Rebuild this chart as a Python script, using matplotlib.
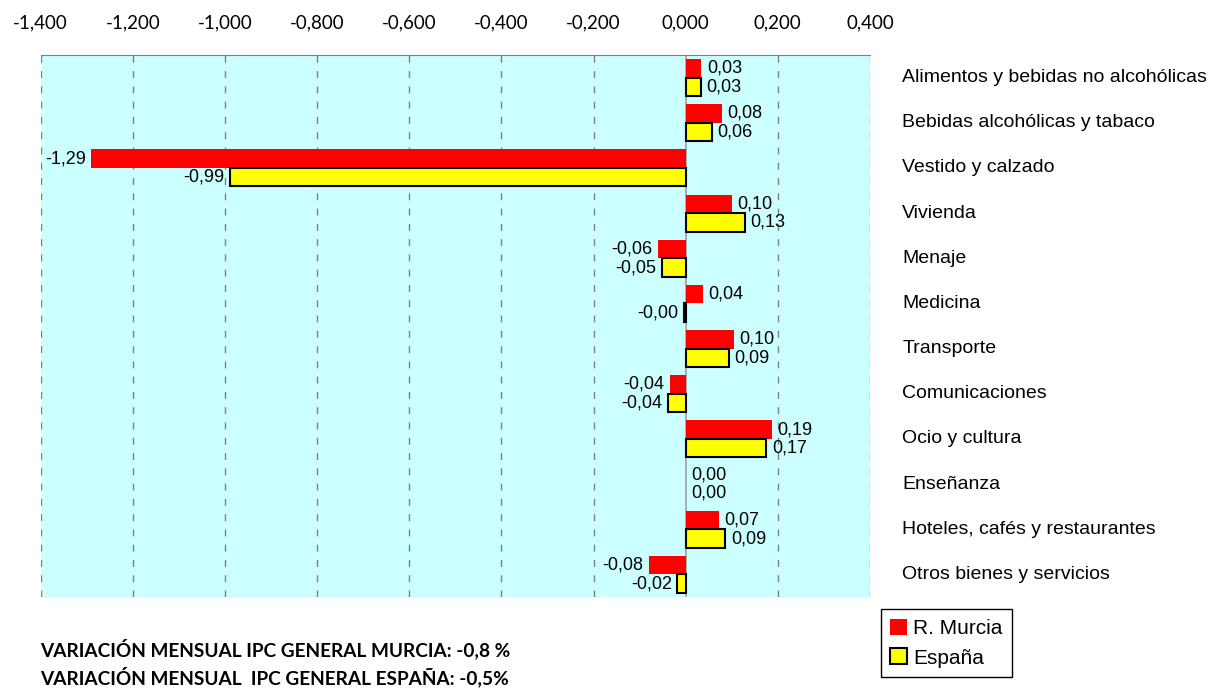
import matplotlib.pyplot as plt
from matplotlib.patches import Patch

categorias = ['Alimentos y bebidas no alcohólicas', 'Bebidas alcohólicas y tabaco',
              'Vestido y calzado', 'Vivienda', 'Menaje', 'Medicina', 'Transporte',
              'Comunicaciones', 'Ocio y cultura', 'Enseñanza',
              'Hoteles, cafés y restaurantes', 'Otros bienes y servicios']
murcia = [0.034, 0.078, -1.29, 0.10, -0.06, 0.037, 0.104, -0.035, 0.187, 0.001, 0.072, -0.08]
espana = [0.033, 0.057, -0.99, 0.128, -0.052, -0.004, 0.094, -0.038, 0.175, 0.0, 0.086, -0.018]
ticks = [-1.4, -1.2, -1.0, -0.8, -0.6, -0.4, -0.2, 0.0, 0.2, 0.4]

W, H = 1225, 689
fig = plt.figure(figsize=(W / 100, H / 100), dpi=100)
ax = fig.add_axes([40.7 / W, 1 - 597 / H, (870 - 40.7) / W, (597 - 55) / H])
ax.set_facecolor('#CCFFFF')

h = 0.41
y = list(range(len(categorias)))
ax.barh([i - h / 2 for i in y], murcia, height=h, color='#FF0000', zorder=3)
# no outline on bars that are exactly zero
lw_esp = [0 if v == 0 else 1.5 for v in espana]
ax.barh([i + h / 2 for i in y], espana, height=h, color='#FFFF00',
        edgecolor='black', linewidth=lw_esp, zorder=3)

def fmt(v):
    return f'{v:.2f}'.replace('.', ',')

for i in y:
    for v, yy in ((murcia[i], i - h / 2), (espana[i], i + h / 2)):
        neg = v < 0
        ax.annotate(fmt(v), (v, yy), xytext=(-4 if neg else 4, 0),
                    textcoords='offset points', ha='right' if neg else 'left',
                    va='center', fontsize=13, family='Liberation Sans', zorder=4)
    ax.text(1.039, i, categorias[i], transform=ax.get_yaxis_transform(),
            ha='left', va='center', fontsize=14, family='Liberation Sans')

ax.set_xlim(-1.4, 0.4)
ax.set_ylim(len(categorias) - 0.5, -0.5)
ax.xaxis.tick_top()
ax.set_xticks(ticks)
ax.set_xticklabels([f'{t:.3f}'.replace('.', ',') for t in ticks],
                   fontsize=13.5, family='Lato')
ax.tick_params(axis='x', length=0, pad=17)
ax.set_yticks([])
for t in ticks:
    if t == 0:
        ax.axvline(t, color='#A0A0A0', lw=1.2, zorder=2)
    else:
        ax.axvline(t, color='#808080', lw=1, ls=(0, (5, 6)), zorder=2)
for s in ['left', 'right', 'bottom']:
    ax.spines[s].set_visible(False)
ax.spines['top'].set_color('#808080')

handles = [Patch(facecolor='#FF0000', edgecolor='none', label='R. Murcia'),
           Patch(facecolor='#FFFF00', edgecolor='black', linewidth=1.5, label='España')]
fig.legend(handles=handles, loc='lower left', bbox_to_anchor=(881 / W, 1 - 677 / H),
           fancybox=False, edgecolor='black', framealpha=1, borderaxespad=0,
           handlelength=0.8, handleheight=0.8, handletextpad=0.3, borderpad=0.45,
           labelspacing=0.5, prop={'family': 'Liberation Sans', 'size': 15})

fig.text(40 / W, 1 - 649 / H, 'VARIACIÓN MENSUAL IPC GENERAL MURCIA: -0,8 %',
         fontsize=13.7, fontweight='bold', family='Lato', va='center')
fig.text(40 / W, 1 - 677 / H, 'VARIACIÓN MENSUAL  IPC GENERAL ESPAÑA: -0,5%',
         fontsize=13.7, fontweight='bold', family='Lato', va='center')

fig.savefig('out.png', dpi=100)
